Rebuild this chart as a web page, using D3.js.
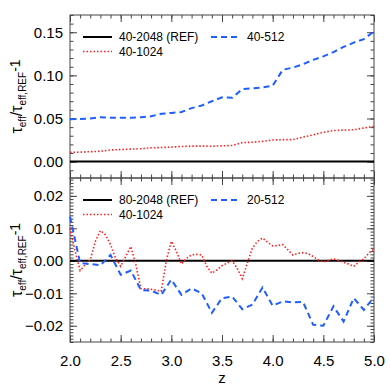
<!DOCTYPE html>
<html>
<head>
<meta charset="utf-8">
<script src="https://cdn.jsdelivr.net/npm/d3@7"></script>
<style>
  body { margin: 0; background: #fff; }
  svg { font-family: "Liberation Sans", Arial, sans-serif; }
  .tick line { stroke: #444; }
</style>
</head>
<body>
<div id="chart"></div>
<script>
// redshift grids
var zCoarse = d3.range(31).map(function(i) { return +(2 + i * 0.1).toFixed(2); });
var zFine = d3.range(61).map(function(i) { return +(2 + i * 0.05).toFixed(2); });

// top panel: 40-2048 is the reference
var top512 = [0.049, 0.0495, 0.050, 0.0515, 0.051, 0.051, 0.051, 0.0515, 0.0525, 0.0555,
  0.0565, 0.0575, 0.062, 0.065, 0.070, 0.0745, 0.074, 0.084, 0.085, 0.086,
  0.088, 0.1065, 0.109, 0.113, 0.118, 0.122, 0.127, 0.133, 0.138, 0.142, 0.151];
var top1024 = [0.0108, 0.011, 0.0115, 0.012, 0.0135, 0.014, 0.0145, 0.015, 0.016, 0.0163,
  0.0168, 0.0175, 0.018, 0.018, 0.0178, 0.0183, 0.0187, 0.022, 0.0225, 0.0235,
  0.025, 0.0255, 0.0255, 0.0285, 0.031, 0.034, 0.036, 0.0365, 0.037, 0.039, 0.041];

// bottom panel: 80-2048 is the reference
var bot512 = [0.0136, -0.0007, -0.0010, -0.0014, 0.0018, -0.0043, -0.0030, -0.0090, -0.0092, -0.0105,
  -0.0058, -0.0105, -0.0085, -0.0100, -0.0160, -0.0115, -0.0110, -0.0149, -0.0135, -0.0082,
  -0.0138, -0.0125, -0.0128, -0.0127, -0.0197, -0.0200, -0.0140, -0.0187, -0.0115, -0.0151, -0.0112];
var bot1024 = [0.0100, 0.0030, -0.0030, -0.0012, 0.0003, 0.0060, 0.0093, 0.0080, 0.0050, 0.0008,
  -0.0017, 0.0013, 0.0044, -0.0012, -0.0086, -0.0086, -0.0088, -0.0090, -0.0094, 0.0000,
  0.0060, 0.0029, -0.0010, 0.0008, 0.0018, 0.0020, 0.0018, -0.0017, -0.0038, -0.0028,
  -0.0015, -0.0007, 0.0000, -0.0023, -0.0055, -0.0007, 0.0039, 0.0060, 0.0070, 0.0057,
  0.0046, 0.0047, 0.0050, 0.0034, 0.0018, 0.0023, 0.0025, 0.0022, 0.0013, 0.0003,
  -0.0004, 0.0002, 0.0006, 0.0001, -0.0005, -0.0010, -0.0017, -0.0004, 0.0006, 0.0024, 0.0037];

var xTicks = [2.0, 2.5, 3.0, 3.5, 4.0, 4.5, 5.0];
var topTicks = [0.00, 0.05, 0.10, 0.15];
var botTicks = [-0.02, -0.01, 0.00, 0.01, 0.02];

var blue = "#1f5fff", red = "#ff2020";

var W = 390, H = 390;
var left = 70, right = 374;
var svg = d3.select("#chart").append("svg")
    .attr("width", W)
    .attr("height", H);

var x = d3.scaleLinear().domain([2, 5]).range([left, right]);

var panels = [
  { y0: 15, y1: 178, domain: [-0.019, 0.17], ticks: topTicks, minor: 0.01, fmt: ".2f",
    ref: "40-2048 (REF)", lo: "40-1024", hi: "40-512",
    s512: zCoarse.map(function(z, i) { return [z, top512[i]]; }),
    s1024: zCoarse.map(function(z, i) { return [z, top1024[i]]; }),
    xlabels: false },
  { y0: 178, y1: 342, domain: [-0.025, 0.0255], ticks: botTicks, minor: 0.001, fmt: ".2f",
    ref: "80-2048 (REF)", lo: "40-1024", hi: "20-512",
    s512: zCoarse.map(function(z, i) { return [z, bot512[i]]; }),
    s1024: zFine.map(function(z, i) { return [z, bot1024[i]]; }),
    xlabels: true }
];

panels.forEach(function(p) {
  var y = d3.scaleLinear().domain(p.domain).range([p.y1, p.y0]);
  var g = svg.append("g");
  var ph = p.y1 - p.y0, pw = right - left;

  var yMinor = d3.range(Math.ceil(p.domain[0] / p.minor), Math.floor(p.domain[1] / p.minor) + 1)
    .map(function(k) { return k * p.minor; });
  var xMinor = d3.range(20, 51).map(function(k) { return k / 10; });

  // minor ticks, all four sides
  g.append("g").attr("transform", "translate(" + left + ",0)")
    .call(d3.axisLeft(y).tickValues(yMinor).tickSize(-3.5).tickFormat(""));
  g.append("g").attr("transform", "translate(" + right + ",0)")
    .call(d3.axisRight(y).tickValues(yMinor).tickSize(-3.5).tickFormat(""));
  g.append("g").attr("transform", "translate(0," + p.y1 + ")")
    .call(d3.axisBottom(x).tickValues(xMinor).tickSize(-3.5).tickFormat(""));
  g.append("g").attr("transform", "translate(0," + p.y0 + ")")
    .call(d3.axisTop(x).tickValues(xMinor).tickSize(-3.5).tickFormat(""));

  // major ticks
  var yl = g.append("g").attr("transform", "translate(" + left + ",0)")
    .call(d3.axisLeft(y).tickValues(p.ticks).tickSize(-7).tickPadding(7)
      .tickFormat(function(d) { return d3.format(p.fmt)(Math.abs(d) < 1e-9 ? 0 : d); }));
  yl.selectAll("text").attr("font-size", 15).attr("fill", "#000")
    .attr("font-family", "Liberation Sans, Arial, sans-serif");
  g.append("g").attr("transform", "translate(" + right + ",0)")
    .call(d3.axisRight(y).tickValues(p.ticks).tickSize(-7).tickFormat(""));
  var xb = g.append("g").attr("transform", "translate(0," + p.y1 + ")")
    .call(d3.axisBottom(x).tickValues(xTicks).tickSize(-7).tickPadding(13)
      .tickFormat(p.xlabels ? d3.format(".1f") : ""));
  xb.selectAll("text").attr("font-size", 15).attr("fill", "#000")
    .attr("font-family", "Liberation Sans, Arial, sans-serif");
  g.append("g").attr("transform", "translate(0," + p.y0 + ")")
    .call(d3.axisTop(x).tickValues(xTicks).tickSize(-7).tickFormat(""));
  g.selectAll(".domain").remove();

  // frame
  g.append("rect").attr("x", left).attr("y", p.y0).attr("width", pw).attr("height", ph)
    .attr("fill", "none").attr("stroke", "#444").attr("stroke-width", 1);

  var line = d3.line().x(function(d) { return x(d[0]); }).y(function(d) { return y(d[1]); });

  // reference line
  g.append("path").datum([[2, 0], [5, 0]]).attr("d", line)
    .attr("fill", "none").attr("stroke", "#000").attr("stroke-width", 2);
  g.append("path").datum(p.s1024).attr("d", line)
    .attr("fill", "none").attr("stroke", red).attr("stroke-width", 1.6)
    .attr("stroke-dasharray", "1.5,2");
  g.append("path").datum(p.s512).attr("d", line)
    .attr("fill", "none").attr("stroke", blue).attr("stroke-width", 2)
    .attr("stroke-dasharray", "6,4");

  // legend
  var ly = p.y0 + 22;
  var leg = g.append("g").attr("font-size", 12);
  [[83, ly, p.ref, "#000", null, 2], [83, ly + 14.5, p.lo, red, "1.5,2", 1.6], [211, ly, p.hi, blue, "6,4", 2]]
    .forEach(function(e) {
      leg.append("line").attr("x1", e[0]).attr("x2", e[0] + 29).attr("y1", e[1]).attr("y2", e[1])
        .attr("stroke", e[3]).attr("stroke-width", e[5]).attr("stroke-dasharray", e[4]);
      leg.append("text").attr("x", e[0] + 36).attr("y", e[1] + 4.3).text(e[2]);
    });

  // y title
  var cy = (p.y0 + p.y1) / 2;
  var t = g.append("text").attr("transform", "translate(22," + cy + ") rotate(-90)")
    .attr("text-anchor", "middle").attr("font-size", 16);
  t.append("tspan").text("τ");
  t.append("tspan").attr("font-size", 10).attr("dy", 4).text("eff");
  t.append("tspan").attr("dy", -4).text("/τ");
  t.append("tspan").attr("font-size", 10).attr("dy", 4).text("eff,REF");
  t.append("tspan").attr("dy", -6).attr("font-size", 14).text("-1");
});

svg.append("text").attr("x", (left + right) / 2).attr("y", 383)
  .attr("text-anchor", "middle").attr("font-size", 15).text("z");
</script>
</body>
</html>
